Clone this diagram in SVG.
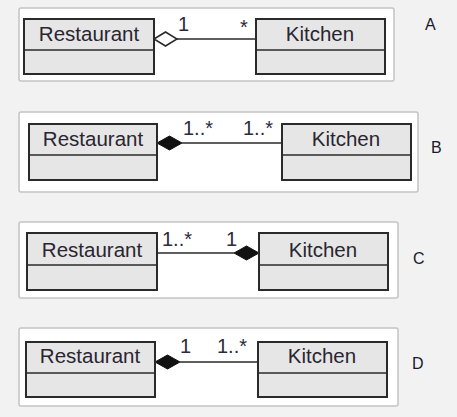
<svg xmlns="http://www.w3.org/2000/svg" width="457" height="417" viewBox="0 0 457 417">
<style>
.bg{fill:#f2f2f2}
.panel{fill:#ffffff;stroke:#c4c4c4;stroke-width:1.5}
.cls{fill:#e6e6e6;stroke:#2a2a2a;stroke-width:2}
.name{font-family:"Liberation Sans",Arial,sans-serif;font-size:20.5px;fill:#2a2530;text-anchor:middle}
.mult{font-family:"Liberation Sans",Arial,sans-serif;font-size:20px;fill:#2a2a40}
.opt{font-family:"Liberation Sans",Arial,sans-serif;font-size:16px;fill:#1a1a2a}
.line{stroke:#2a2a2a;stroke-width:1.5;fill:none}
.hollow{fill:#ffffff;stroke:#2a2a2a;stroke-width:1.5}
.filled{fill:#111111;stroke:#111111;stroke-width:1}
</style>
<rect class="bg" x="0" y="0" width="457" height="417"/>
<g id="panels">
<rect class="panel" x="19" y="8" width="375" height="73" rx="2"/>
<rect class="panel" x="19" y="112" width="399" height="80" rx="2"/>
<rect class="panel" x="19" y="222" width="379" height="76" rx="2"/>
<rect class="panel" x="19" y="328" width="379" height="78" rx="2"/>
</g>
<g id="connectors">
<line class="line" x1="177" y1="39" x2="256" y2="39"/>
<polygon class="hollow" points="154,39 165.5,32 177,39 165.5,46"/>
<line class="line" x1="182" y1="143" x2="282" y2="143"/>
<polygon class="filled" points="157,143 169.5,136 182,143 169.5,150"/>
<line class="line" x1="157" y1="253" x2="234" y2="253"/>
<polygon class="filled" points="234,253 246.5,246 259,253 246.5,260"/>
<line class="line" x1="180" y1="362" x2="258" y2="362"/>
<polygon class="filled" points="155,362 167.5,355 180,362 167.5,369"/>
<text class="mult" x="178" y="31">1</text>
<text class="mult" x="240" y="34">*</text>
<text class="mult" x="183" y="135">1..*</text>
<text class="mult" x="243" y="135">1..*</text>
<text class="mult" x="162" y="246">1..*</text>
<text class="mult" x="226" y="246">1</text>
<text class="mult" x="180" y="353">1</text>
<text class="mult" x="217" y="353">1..*</text>
</g>
<g id="restaurantA"><rect class="cls" x="24" y="19" width="130" height="55"/><line class="line" x1="24" y1="50" x2="154" y2="50" stroke-width="2"/><text class="name" x="89" y="41">Restaurant</text></g>
<g id="kitchenA"><rect class="cls" x="256" y="19" width="129" height="55"/><line class="line" x1="256" y1="50" x2="385" y2="50" stroke-width="2"/><text class="name" x="320" y="41">Kitchen</text></g>
<g id="restaurantB"><rect class="cls" x="29" y="124" width="128" height="56"/><line class="line" x1="29" y1="155" x2="157" y2="155" stroke-width="2"/><text class="name" x="93" y="146">Restaurant</text></g>
<g id="kitchenB"><rect class="cls" x="282" y="124" width="129" height="56"/><line class="line" x1="282" y1="155" x2="411" y2="155" stroke-width="2"/><text class="name" x="346" y="146">Kitchen</text></g>
<g id="restaurantC"><rect class="cls" x="27" y="233" width="130" height="57"/><line class="line" x1="27" y1="265" x2="157" y2="265" stroke-width="2"/><text class="name" x="92" y="257">Restaurant</text></g>
<g id="kitchenC"><rect class="cls" x="259" y="233" width="129" height="57"/><line class="line" x1="259" y1="265" x2="388" y2="265" stroke-width="2"/><text class="name" x="323" y="257">Kitchen</text></g>
<g id="restaurantD"><rect class="cls" x="26" y="342" width="129" height="55"/><line class="line" x1="26" y1="373" x2="155" y2="373" stroke-width="2"/><text class="name" x="90" y="363">Restaurant</text></g>
<g id="kitchenD"><rect class="cls" x="258" y="342" width="129" height="55"/><line class="line" x1="258" y1="373" x2="387" y2="373" stroke-width="2"/><text class="name" x="322" y="363">Kitchen</text></g>
<g id="labels">
<text class="opt" x="425" y="30">A</text>
<text class="opt" x="431" y="153">B</text>
<text class="opt" x="413" y="264">C</text>
<text class="opt" x="412" y="369">D</text>
</g>
</svg>
